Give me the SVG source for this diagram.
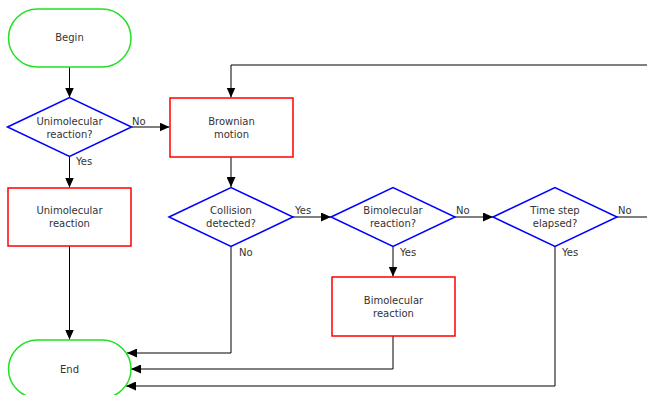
<svg xmlns="http://www.w3.org/2000/svg" width="647" height="395" viewBox="0 0 647 395">
<style>
.term{fill:#fff;stroke:#22e022;stroke-width:1.5}
.dec{fill:#fff;stroke:#0000ff;stroke-width:1.5}
.proc{fill:#fff;stroke:#ff0000;stroke-width:1.5}
text{font-family:"DejaVu Sans",sans-serif;font-size:10px;fill:#333}
.c{text-anchor:middle}
.conn path{fill:none;stroke:#000;stroke-width:1;marker-end:url(#ah)}
.conn path.noarrow{marker-end:none}
</style>
<defs>
<marker id="ah" viewBox="0 0 10 9" refX="10" refY="4.5" markerWidth="10" markerHeight="9" markerUnits="userSpaceOnUse" orient="auto">
<path d="M0,0 L10,4.5 L0,9 z" fill="#000"/>
</marker>
</defs>
<rect width="647" height="395" fill="#fff"/>
<g id="connectors" class="conn">
<path d="M69.5,67 V97.5"/>
<path d="M131.5,127 H169.5"/>
<path d="M69.5,156.5 V187.5"/>
<path d="M69.5,246 V339.5"/>
<path d="M231,157 V187"/>
<path d="M293,217 H331"/>
<path d="M231,246.5 V353 H127"/>
<path d="M455,217 H493"/>
<path d="M393,246.5 V276.5"/>
<path d="M393,336 V369 H131"/>
<path d="M555,246.5 V386 H126"/>
<path d="M617,217 H660 V65 H231 V97.5"/>
<text x="132" y="124.5">No</text>
<text x="76" y="164.5">Yes</text>
<text x="295" y="214">Yes</text>
<text x="239" y="256">No</text>
<text x="456" y="214">No</text>
<text x="400" y="256">Yes</text>
<text x="618" y="214">No</text>
<text x="562" y="256">Yes</text>
</g>
<g id="begin">
<rect class="term" x="8.5" y="9" width="122.5" height="58" rx="29" ry="29"/>
<text class="c" x="69.5" y="41">Begin</text>
</g>
<g id="unimolecular-decision">
<polygon class="dec" points="7.5,127 69.5,97.5 131.5,127 69.5,156.5"/>
<text class="c" x="69.5" y="124.5">Unimolecular</text>
<text class="c" x="69.5" y="137.5">reaction?</text>
</g>
<g id="brownian-motion">
<rect class="proc" x="170" y="98" width="123" height="59"/>
<text class="c" x="231.5" y="124.5">Brownian</text>
<text class="c" x="231.5" y="137.5">motion</text>
</g>
<g id="unimolecular-reaction">
<rect class="proc" x="8" y="188" width="123" height="58"/>
<text class="c" x="69.5" y="214">Unimolecular</text>
<text class="c" x="69.5" y="227">reaction</text>
</g>
<g id="collision-decision">
<polygon class="dec" points="169,217 231,187.5 293,217 231,246.5"/>
<text class="c" x="231" y="214">Collision</text>
<text class="c" x="231" y="227">detected?</text>
</g>
<g id="bimolecular-decision">
<polygon class="dec" points="331,217 393,187.5 455,217 393,246.5"/>
<text class="c" x="393" y="214">Bimolecular</text>
<text class="c" x="393" y="227">reaction?</text>
</g>
<g id="timestep-decision">
<polygon class="dec" points="493,217 555,187.5 617,217 555,246.5"/>
<text class="c" x="555" y="214">Time step</text>
<text class="c" x="555" y="227">elapsed?</text>
</g>
<g id="bimolecular-reaction">
<rect class="proc" x="332" y="277" width="123" height="59"/>
<text class="c" x="393.5" y="303.5">Bimolecular</text>
<text class="c" x="393.5" y="316.5">reaction</text>
</g>
<g id="end">
<rect class="term" x="8.5" y="340" width="122.5" height="58" rx="29" ry="29"/>
<text class="c" x="69.5" y="372.5">End</text>
</g>
</svg>
